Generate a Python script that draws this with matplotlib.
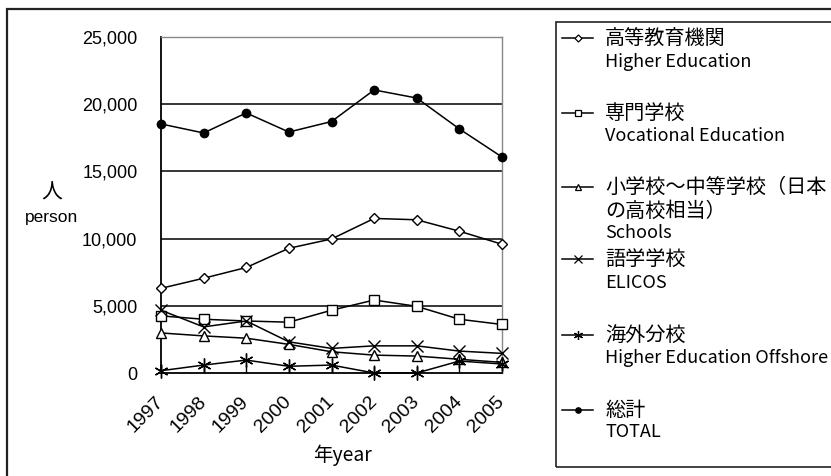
import numpy as np
import matplotlib
matplotlib.use('Agg')
import matplotlib.pyplot as plt
from matplotlib.lines import Line2D
from matplotlib.patches import Rectangle

JP = ['Noto Sans CJK JP', 'DejaVu Sans']
NUM = ['Liberation Sans', 'DejaVu Sans']

years = ['1997', '1998', '1999', '2000', '2001', '2002', '2003', '2004', '2005']
higher_ed = [6300, 7050, 7850, 9280, 9970, 11500, 11400, 10550, 9580]
vocational = [4250, 4000, 3870, 3780, 4670, 5430, 4960, 4000, 3610]
schools = [2980, 2760, 2590, 2130, 1580, 1330, 1260, 1020, 790]
elicos = [4670, 3430, 3870, 2320, 1830, 2020, 2020, 1630, 1460]
offshore = [170, 590, 960, 500, 590, 0, 0, 890, 670]
total = [18530, 17860, 19350, 17930, 18710, 21060, 20460, 18160, 16070]

series = [
    (higher_ed, 'D', 5.5, ['高等教育機関', 'Higher Education']),
    (vocational, 's', 7, ['専門学校', 'Vocational Education']),
    (schools, '^', 7.5, ['小学校～中等学校（日本', 'の高校相当）', 'Schools']),
    (elicos, 'x', 9, ['語学学校', 'ELICOS']),
    (offshore, (6, 2, 0), 10, ['海外分校', 'Higher Education Offshore']),
    (total, 'o', 6, ['総計', 'TOTAL']),
]

W, H = 831, 476
fig = plt.figure(figsize=(W / 100, H / 100), dpi=100)


def fx(px):
    return px / W


def fy(py):
    return 1 - py / H


def has_ascii(s):
    return all(ord(c) < 128 for c in s)


# outer frame (only left and top edges fall inside the canvas)
fig.patches.append(Rectangle((fx(7), fy(480)), fx(840), fy(9) - fy(480),
                             transform=fig.transFigure, fill=False,
                             edgecolor='#222222', linewidth=1.6))

ax = fig.add_axes([fx(161), fy(373), fx(502) - fx(161), fy(37) - fy(373)])
x = np.arange(len(years))

for vals, mk, ms, _ in series:
    filled = mk == 'o' or isinstance(mk, tuple) or mk == 'x'
    ax.plot(x, vals, color='black', linewidth=1.1, marker=mk, markersize=ms,
            markerfacecolor='black' if filled else 'white',
            markeredgecolor='black', markeredgewidth=1.0, clip_on=False,
            zorder=3)

ax.set_xlim(0, len(years) - 1)
ax.set_ylim(0, 25000)
ax.set_yticks(np.arange(0, 25001, 5000))
ax.set_yticklabels([f'{v:,}' for v in range(0, 25001, 5000)],
                   fontsize=13, family=NUM)
ax.tick_params(axis='y', length=0, pad=17)
ax.set_xticks(x)
ax.set_xticklabels(years, fontsize=14, family=NUM, rotation=45,
                   ha='right', va='center', rotation_mode='anchor')
ax.tick_params(axis='x', direction='in', length=6, width=1, pad=19)

for y in range(5000, 25000, 5000):
    ax.axhline(y, color='black', linewidth=1.1, zorder=1)

for side in ('left', 'bottom'):
    ax.spines[side].set_color('black')
    ax.spines[side].set_linewidth(1.3)
for side in ('top', 'right'):
    ax.spines[side].set_color('#888888')
    ax.spines[side].set_linewidth(1.0)

fig.text(fx(52), fy(193), '人', fontsize=15, family=JP, ha='center', va='center')
fig.text(fx(52), fy(218), 'person', fontsize=12.5, family=NUM, ha='center', va='center')
fig.text(fx(342), fy(455), '年year', fontsize=14, family=JP, ha='center', va='center')

# legend box
fig.patches.append(Rectangle((fx(556), fy(467)), fx(300), fy(22) - fy(467),
                             transform=fig.transFigure, fill=False,
                             edgecolor='#222222', linewidth=1.2))
line_rows = [[38, 62], [113, 136], [187, 211, 233], [259, 283], [335, 358], [410, 432]]
for (vals, mk, ms, labels), rows in zip(series, line_rows):
    filled = mk == 'o' or isinstance(mk, tuple) or mk == 'x'
    fig.add_artist(Line2D([fx(562), fx(593)], [fy(rows[0])] * 2,
                          transform=fig.transFigure, color='black',
                          linewidth=1.1))
    fig.add_artist(Line2D([fx(577.5)], [fy(rows[0])], transform=fig.transFigure,
                          marker=mk, markersize=ms * 0.65, color='black',
                          markerfacecolor='black' if filled else 'white',
                          markeredgecolor='black', markeredgewidth=0.9))
    for text, row in zip(labels, rows):
        size = 13 if has_ascii(text) else 14.5
        fig.text(fx(605), fy(row), text, fontsize=size, family=JP,
                 ha='left', va='center')

fig.savefig('out.png', dpi=100)
